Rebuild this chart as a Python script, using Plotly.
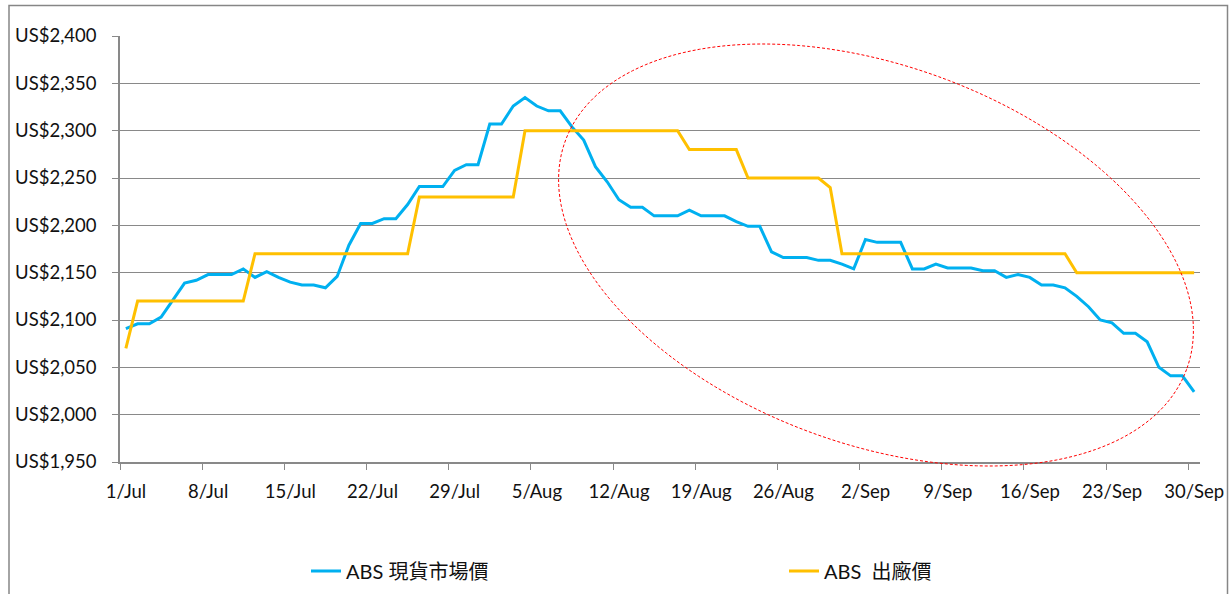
import numpy as np
import pandas as pd
import plotly.graph_objects as go

# ---- data ----
dates = pd.date_range("2013-07-01", "2013-09-30", freq="D")

spot_price = [
    2091, 2096, 2096, 2103, 2121, 2139, 2142, 2148, 2148, 2148,
    2154, 2145, 2151, 2145, 2140, 2137, 2137, 2134, 2146, 2179,
    2202, 2202, 2207, 2207, 2222, 2241, 2241, 2241, 2258, 2264,
    2264, 2307, 2307, 2326, 2335, 2326, 2321, 2321, 2304, 2290,
    2262, 2246, 2227, 2219, 2219, 2210, 2210, 2210, 2216, 2210,
    2210, 2210, 2204, 2199, 2199, 2172, 2166, 2166, 2166, 2163,
    2163, 2159, 2154, 2185, 2182, 2182, 2182, 2154, 2154, 2159,
    2155, 2155, 2155, 2152, 2152, 2145, 2148, 2145, 2137, 2137,
    2134, 2125, 2114, 2100, 2097, 2086, 2086, 2077, 2050, 2041,
    2041, 2024,
]

factory_price = (
    [2070]
    + [2120] * 10
    + [2170] * 14
    + [2230] * 9
    + [2300] * 14
    + [2280] * 5
    + [2250] * 7
    + [2240]
    + [2170] * 20
    + [2150] * 11
)

tick_dates = pd.date_range("2013-07-01", "2013-09-30", freq="7D")
tick_labels = ["1/Jul", "8/Jul", "15/Jul", "22/Jul", "29/Jul", "5/Aug", "12/Aug",
               "19/Aug", "26/Aug", "2/Sep", "9/Sep", "16/Sep", "23/Sep", "30/Sep"]

series_names = ["ABS 現貨市場價", "ABS  出廠價"]
series_colors = ["#00B0F0", "#FFC000"]

# ---- figure ----
x_mid = dates + pd.Timedelta(hours=12)
FONT = "Lato, 'Noto Sans CJK TC', sans-serif"
GRID = "#898989"
TXT = "#111111"

W, H = 1231, 594
L, R, T, B = 120, 31, 36, 132
pw, ph = W - L - R, H - T - B


def to_paper(X, Y):
    return (X - L) / pw, (H - B - Y) / ph


fig = go.Figure()
legend_ids = ["legend", "legend2"]
for name, vals, col, lg in zip(series_names, [spot_price, factory_price],
                               series_colors, legend_ids):
    fig.add_trace(go.Scatter(x=x_mid, y=vals, name=name, mode="lines",
                             line=dict(color=col, width=3), legend=lg))

# highlight ellipse (decoration, pixel-based geometry)
cx, cy, a, b, th = 876, 255, 331, 189, np.radians(20.2)
t = np.linspace(0, 2 * np.pi, 200)
ex = cx + a * np.cos(th) * np.cos(t) - b * np.sin(th) * np.sin(t)
ey = cy + a * np.sin(th) * np.cos(t) + b * np.cos(th) * np.sin(t)
pts = [to_paper(x, y) for x, y in zip(ex, ey)]
path = "M " + " L ".join(f"{px:.5f},{py:.5f}" for px, py in pts) + " Z"

bx0, by1 = to_paper(9, 5.5)
bx1, by0 = to_paper(1227.5, 620)

legend_style = dict(orientation="h", xanchor="left", yanchor="middle",
                    xref="container", yref="container",
                    y=1 - 571 / H,
                    font=dict(family=FONT, size=20, color=TXT),
                    bgcolor="rgba(0,0,0,0)")

fig.update_layout(
    width=W, height=H,
    margin=dict(l=L, r=R, t=T, b=B),
    paper_bgcolor="white", plot_bgcolor="white",
    font=dict(family=FONT, size=18, color=TXT),
    showlegend=True,
    legend=dict(x=306 / W, **legend_style),
    legend2=dict(x=784 / W, **legend_style),
    shapes=[
        dict(type="path", path=path, xref="paper", yref="paper",
             line=dict(color="#FF0000", width=1, dash="3px,2px"),
             fillcolor="rgba(0,0,0,0)", layer="above"),
        dict(type="rect", xref="paper", yref="paper", x0=bx0, x1=bx1, y0=by0, y1=by1,
             line=dict(color="#868686", width=1.5), fillcolor="rgba(0,0,0,0)",
             layer="below"),
    ],
)

fig.update_xaxes(
    range=[dates[0], dates[-1] + pd.Timedelta(days=1)],
    tickvals=tick_dates, ticktext=tick_labels,
    ticks="outside", ticklen=6, tickcolor=GRID, tickwidth=1,
    showline=True, linecolor=GRID, linewidth=1.5,
    showgrid=False, zeroline=False, automargin=False,
    ticklabelshift=6, ticklabelstandoff=6,
    tickfont=dict(family=FONT, size=18.5, color=TXT),
)
fig.update_yaxes(
    range=[1950, 2400], dtick=50, tick0=1950,
    tickprefix="US$", tickformat=",d",
    ticks="outside", ticklen=6, tickcolor=GRID, tickwidth=1,
    showline=True, linecolor=GRID, linewidth=1.5,
    showgrid=True, gridcolor=GRID, gridwidth=1.2,
    zeroline=False, automargin=False,
    ticklabelstandoff=12,
    tickfont=dict(family=FONT, size=18.5, color=TXT),
)

fig.write_html("out.html", config={"displayModeBar": False},
               post_script="document.body.style.margin='0px';")
